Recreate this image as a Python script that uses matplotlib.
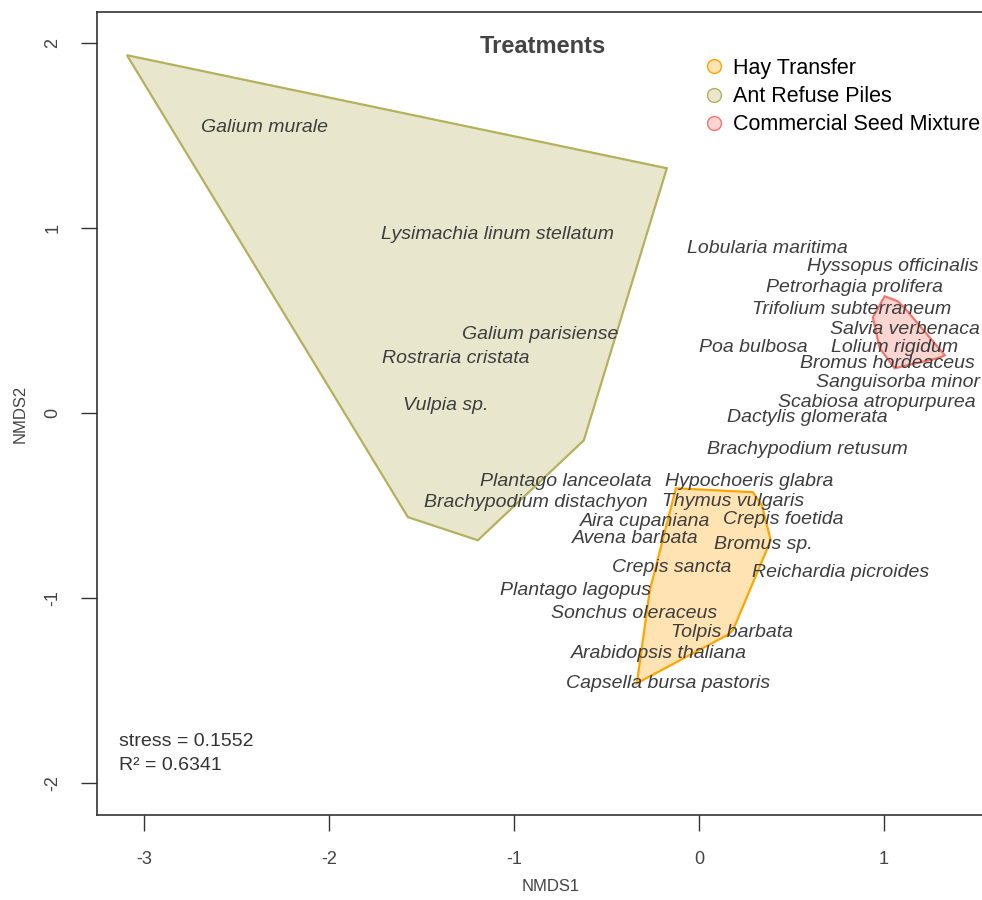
import matplotlib.pyplot as plt
from matplotlib.lines import Line2D
from matplotlib.patches import Polygon
from matplotlib.colors import to_rgba

plt.rcParams['font.family'] = ['Liberation Sans', 'DejaVu Sans']

# species scores (NMDS1, NMDS2)
species = [
    "Galium murale", "Lysimachia linum stellatum", "Galium parisiense",
    "Rostraria cristata", "Vulpia sp.", "Lobularia maritima",
    "Hyssopus officinalis", "Petrorhagia prolifera", "Trifolium subterraneum",
    "Salvia verbenaca", "Poa bulbosa", "Lolium rigidum", "Bromus hordeaceus",
    "Sanguisorba minor", "Scabiosa atropurpurea", "Dactylis glomerata",
    "Brachypodium retusum", "Plantago lanceolata", "Hypochoeris glabra",
    "Brachypodium distachyon", "Thymus vulgaris", "Aira cupaniana",
    "Crepis foetida", "Avena barbata", "Bromus sp.", "Crepis sancta",
    "Reichardia picroides", "Plantago lagopus", "Sonchus oleraceus",
    "Tolpis barbata", "Arabidopsis thaliana", "Capsella bursa pastoris",
]
nmds1 = [-2.346, -1.086, -0.859, -1.314, -1.368, 0.368, 1.049, 0.843, 0.827,
         1.114, 0.292, 1.059, 1.022, 1.076, 0.962, 0.584, 0.589, -0.719, 0.270,
         -0.881, 0.184, -0.292, 0.459, -0.341, 0.346, -0.146, 0.768, -0.665,
         -0.351, 0.178, -0.216, -0.168]
nmds2 = [1.544, 0.966, 0.425, 0.296, 0.042, 0.890, 0.793, 0.680, 0.561,
         0.453, 0.355, 0.355, 0.269, 0.166, 0.058, -0.023, -0.196, -0.369,
         -0.369, -0.483, -0.477, -0.585, -0.574, -0.677, -0.710, -0.834,
         -0.861, -0.958, -1.083, -1.185, -1.299, -1.461]

# convex hulls of site scores per treatment
treatments = ["Hay Transfer", "Ant Refuse Piles", "Commercial Seed Mixture"]
hay_x = [-0.124, 0.292, 0.341, 0.389, 0.184, 0.151, -0.335, -0.265]
hay_y = [-0.407, -0.428, -0.499, -0.688, -1.175, -1.202, -1.461, -0.958]
ant_x = [-3.092, -0.173, -0.622, -1.195, -1.573]
ant_y = [1.934, 1.323, -0.148, -0.688, -0.563]
seed_x = [1.005, 1.076, 1.114, 1.330, 1.292, 1.059, 0.978, 0.941]
seed_y = [0.631, 0.604, 0.566, 0.312, 0.296, 0.242, 0.350, 0.517]

stress = 0.1552
r2 = 0.6341

colors = ["#FFA500", "#B5B05C", "#F4766C"]
hulls = [(hay_x, hay_y), (ant_x, ant_y), (seed_x, seed_y)]

fig = plt.figure(figsize=(9.82, 9.0), dpi=100)
ax = fig.add_axes([97 / 982, 85 / 900, 907 / 982, 803 / 900])

for (hx, hy), col in zip(hulls, colors):
    poly = Polygon(list(zip(hx, hy)), closed=True, facecolor=to_rgba(col, 0.3),
                   edgecolor=col, linewidth=1.6, zorder=1)
    ax.add_patch(poly)

for name, x, y in zip(species, nmds1, nmds2):
    ax.text(x, y, name, ha="center", va="center", style="italic",
            fontsize=14, color="#3d3d3d", zorder=3)

ax.text(-3.135, -1.775, f"stress = {stress}", fontsize=14, color="#333333",
        ha="left", va="center")
ax.text(-3.135, -1.904, f"R\u00b2 = {r2}", fontsize=14, color="#333333",
        ha="left", va="center")

ax.text(-0.843, 1.982, "Treatments", fontsize=17, fontweight="bold",
        color="#444444", ha="center", va="center")

handles = [Line2D([], [], linestyle="none", marker="o", markersize=10,
                  markerfacecolor=to_rgba(c, 0.3), markeredgecolor=c,
                  markeredgewidth=1.0) for c in colors]
ax.legend(handles, treatments, loc="upper left", frameon=False,
          bbox_to_anchor=(703 / 982, 1 - 58 / 900), bbox_transform=fig.transFigure,
          fontsize=15.5, borderpad=0, borderaxespad=0, handlelength=1.0,
          handletextpad=0.4, labelspacing=0.33)

ax.set_xlim(-3.254, 1.65)
ax.set_ylim(-2.173, 2.1676)
ax.set_xticks([-3, -2, -1, 0, 1])
ax.set_yticks([-2, -1, 0, 1, 2])
ax.set_xticklabels(["-3", "-2", "-1", "0", "1"])
ax.set_yticklabels(["-2", "-1", "0", "1", "2"])
ax.tick_params(axis="both", direction="out", length=11.5, width=1.0,
               color="#333333", labelsize=13, labelcolor="#444444")
ax.tick_params(axis="x", pad=14.5)
ax.tick_params(axis="y", pad=14, labelrotation=90)
for lab in ax.get_yticklabels():
    lab.set_va("center")
for sp in ax.spines.values():
    sp.set_color("#333333")
    sp.set_linewidth(1.2)

ax.set_xlabel("NMDS1", fontsize=12, color="#444444", labelpad=8)
ax.set_ylabel("NMDS2", fontsize=12, color="#444444", labelpad=12)

fig.savefig("out.png", dpi=100)
